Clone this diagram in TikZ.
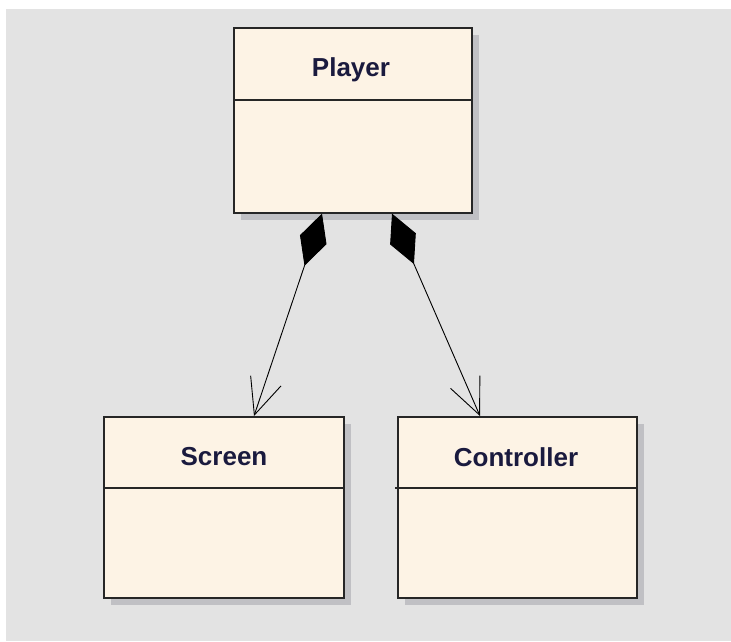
\documentclass[tikz,border=0pt]{standalone}
\usepackage{fontspec}
\setmainfont{Liberation Sans}
\usetikzlibrary{arrows.meta,shadows}
\definecolor{bggray}{RGB}{227,227,227}
\definecolor{clsfill}{RGB}{253,243,229}
\definecolor{shadowgray}{RGB}{192,192,196}
\definecolor{titlecol}{RGB}{26,26,62}
\tikzset{
  cls/.style={draw=black!85, line width=1.6pt, fill=clsfill, anchor=north west,
    inner sep=0pt,
    drop shadow={shadow xshift=7.5pt, shadow yshift=-7.5pt, fill=shadowgray, opacity=1}},
  divider/.style={draw=black!85, line width=1.4pt},
  clstitle/.style={font=\fontsize{26}{26}\selectfont\bfseries, text=titlecol, inner sep=0pt},
  comp/.style={line width=0.9pt, draw=black,
    {Diamond[length=55pt,width=28pt,fill=black]}-{Straight Barb[length=36pt,width=32pt,line width=0.9pt]}}
}
\begin{document}
\begin{tikzpicture}[x=1pt,y=-1pt]
\useasboundingbox (0,0) rectangle (731,641);
\fill[bggray] (6,9) rectangle (731,641);
% classes
\node[cls, minimum width=238pt, minimum height=185pt] (player) at (233,27) {};
\node[cls, minimum width=240pt, minimum height=181pt] (screen) at (103,416) {};
\node[cls, minimum width=239pt, minimum height=181pt] (controller) at (397,416) {};
% titles
\node[clstitle] (playerT) at (351,70) {Player};
\node[clstitle] (screenT) at (224,457) {Screen};
\node[clstitle] (controllerT) at (516,457) {Controller};
% dividers
\draw[divider] (player.west |- 0,100) -- (player.east |- 0,100);
\draw[divider] (screen.west |- 0,488) -- (screen.east |- 0,488);
\draw[divider] ([xshift=-2pt]controller.west |- 0,488) -- (controller.east |- 0,488);
% compositions
\draw[comp] ([xshift=89pt]player.south west) -- ([xshift=151pt]screen.north west);
\draw[comp] ([xshift=159pt]player.south west) -- ([xshift=83pt]controller.north west);
\end{tikzpicture}
\end{document}
